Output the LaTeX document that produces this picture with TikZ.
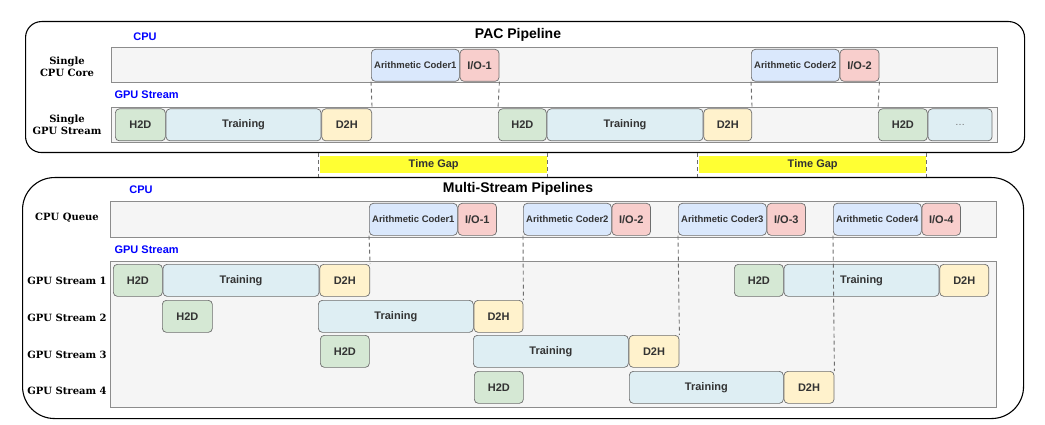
\documentclass[tikz,border=0pt]{standalone}
\usepackage{fontspec}
\setmainfont{DejaVu Serif}
\setsansfont{Liberation Sans}
\usepackage{tikz}
\usetikzlibrary{positioning}
\definecolor{lane}{HTML}{F5F5F5}
\definecolor{laneline}{HTML}{8C8C8C}
\definecolor{edge}{HTML}{6E6E6E}
\definecolor{ink}{HTML}{333333}
\definecolor{hd}{HTML}{D5E8D4}
\definecolor{tr}{HTML}{DEEEF3}
\definecolor{dh}{HTML}{FFF2CC}
\definecolor{ac}{HTML}{DAE8FC}
\definecolor{io}{HTML}{F8CECC}
\definecolor{gapy}{HTML}{FFFF33}
\tikzset{
  frame/.style={draw=black,line width=1.1pt,anchor=north west,inner sep=0pt},
  bar/.style={draw=laneline,fill=lane,anchor=north west,inner sep=0pt,line width=.8pt},
  task/.style={draw=edge,rounded corners=4pt,minimum height=32,inner sep=0pt,text=ink,
    font=\sffamily\bfseries\fontsize{11}{12}\selectfont,line width=.7pt},
  coder/.style={task,fill=ac,font=\sffamily\bfseries\fontsize{9.5}{11}\selectfont},
  iobox/.style={task,fill=io},
  gapbar/.style={fill=gapy,anchor=north west,inner sep=0pt,minimum height=17,text=ink,
    font=\sffamily\bfseries\fontsize{11}{12}\selectfont},
  lbl/.style={font=\fontsize{10}{12.5}\selectfont\bfseries,align=center},
  hdr/.style={font=\sffamily\bfseries\fontsize{11}{12}\selectfont,text=blue},
  ttl/.style={font=\sffamily\bfseries\fontsize{14}{16}\selectfont},
  sync/.style={dashed,dash pattern=on 4pt off 3pt,draw=edge,line width=.9pt}
}

\begin{document}
\begin{tikzpicture}[x=1pt,y=-1pt]
  \useasboundingbox (0,0) rectangle (1045,425);

  % PAC pipeline
  \node[frame,rounded corners=16pt,minimum width=999,minimum height=131] (pac) at (25,21) {};
  \node[ttl] (pacT) at (518,35) {PAC Pipeline};
  \node[hdr] (cpuH) at (145,37) {CPU};
  \node[hdr,anchor=west] (gpuH) at (111,95) {GPU Stream};
  \node[lbl] (coreL) at (67,67) {Single\\CPU Core};
  \node[lbl] (streamL) at (67,125) {Single\\GPU Stream};
  \node[bar,minimum width=886,minimum height=35] (cpuA) at (111,47) {};
  \node[bar,minimum width=886,minimum height=35] (gpuA) at (111,107) {};

  \node[coder,anchor=north west,minimum width=88] (ac1) at (371,49) {Arithmetic Coder1};
  \node[iobox,minimum width=39,right=0pt of ac1] (io1) {I/O-1};
  \node[coder,anchor=north west,minimum width=88] (ac2) at (751,49) {Arithmetic Coder2};
  \node[iobox,minimum width=39,right=0pt of ac2] (io2) {I/O-2};

  \node[task,fill=hd,anchor=north west,minimum width=50] (hA1) at (115,108.5) {H2D};
  \node[task,fill=tr,minimum width=155,right=0pt of hA1] (tA1) {Training};
  \node[task,fill=dh,minimum width=50,right=0pt of tA1] (dA1) {D2H};
  \node[task,fill=hd,anchor=north west,minimum width=48] (hA2) at (498,108.5) {H2D};
  \node[task,fill=tr,minimum width=156,right=0pt of hA2] (tA2) {Training};
  \node[task,fill=dh,minimum width=48,right=0pt of tA2] (dA2) {D2H};
  \node[task,fill=hd,anchor=north west,minimum width=49] (hA3) at (878,108.5) {H2D};
  \node[task,fill=tr,minimum width=64,right=0pt of hA3,font=\sffamily\fontsize{10}{11}\selectfont,text=edge] (more) {\dots};

  \draw[sync] (ac1.south west) -- (dA1.north east);
  \draw[sync] (io1.south east) -- (hA2.north west);
  \draw[sync] (ac2.south west) -- (dA2.north east);
  \draw[sync] (io2.south east) -- (hA3.north west);

  % time gaps
  \node[frame,rounded corners=32pt,minimum width=1001,minimum height=241] (multi) at (22,177) {};
  \node[gapbar,minimum width=227] (gap1) at (320,156) {Time Gap};
  \node[gapbar,minimum width=227] (gap2) at (699,156) {Time Gap};
  \draw[sync] ([xshift=-2]gap1.west |- pac.south) -- ([xshift=-2]gap1.west |- multi.north);
  \draw[sync] (gap1.east |- pac.south) -- (gap1.east |- multi.north);
  \draw[sync] ([xshift=-2]gap2.west |- pac.south) -- ([xshift=-2]gap2.west |- multi.north);
  \draw[sync] (gap2.east |- pac.south) -- (gap2.east |- multi.north);

  % multi-stream pipelines
  \node[ttl] (multiT) at (518,189) {Multi-Stream Pipelines};
  \node[hdr] (cpuH2) at (141,190) {CPU};
  \node[hdr,anchor=west] (gpuH2) at (111,250) {GPU Stream};
  \node[lbl] (queueL) at (67,218) {CPU Queue};
  \node[lbl] (s1L) at (67,281) {GPU Stream 1};
  \node[lbl] (s2L) at (67,318) {GPU Stream 2};
  \node[lbl] (s3L) at (67,355) {GPU Stream 3};
  \node[lbl] (s4L) at (67,391) {GPU Stream 4};
  \node[bar,minimum width=886,minimum height=36] (cpuB) at (110,201) {};
  \node[bar,minimum width=886,minimum height=146] (gpuB) at (110,261) {};

  \foreach \k/\x in {1/369,2/523,3/678,4/833} {
    \node[coder,anchor=north west,minimum width=88] (bac\k) at (\x,203) {Arithmetic Coder\k};
    \node[iobox,minimum width=38.5,right=0pt of bac\k] (bio\k) {I/O-\k};
  }

  \node[task,fill=hd,anchor=north west,minimum width=49] (s1h) at (113,264) {H2D};
  \node[task,fill=tr,minimum width=156,right=0pt of s1h] (s1t) {Training};
  \node[task,fill=dh,minimum width=50,right=0pt of s1t] (s1d) {D2H};
  \node[task,fill=hd,anchor=north west,minimum width=49] (s1hb) at (734,264) {H2D};
  \node[task,fill=tr,minimum width=155,right=0pt of s1hb] (s1tb) {Training};
  \node[task,fill=dh,minimum width=49,right=0pt of s1tb] (s1db) {D2H};

  \node[task,fill=hd,anchor=north west,minimum width=50] (s2h) at (162,300) {H2D};
  \node[task,fill=tr,anchor=north west,minimum width=155] (s2t) at (318,300) {Training};
  \node[task,fill=dh,minimum width=49,right=0pt of s2t] (s2d) {D2H};

  \node[task,fill=hd,anchor=north west,minimum width=49] (s3h) at (320,335) {H2D};
  \node[task,fill=tr,anchor=north west,minimum width=155] (s3t) at (473,335) {Training};
  \node[task,fill=dh,minimum width=50,right=0pt of s3t] (s3d) {D2H};

  \node[task,fill=hd,anchor=north west,minimum width=49] (s4h) at (474,371) {H2D};
  \node[task,fill=tr,anchor=north west,minimum width=154] (s4t) at (629,371) {Training};
  \node[task,fill=dh,minimum width=50,right=0pt of s4t] (s4d) {D2H};

  \draw[sync] (bac1.south west) -- (s1d.north east);
  \draw[sync] (bac2.south west) -- (s2d.north east);
  \draw[sync] (bac3.south west) -- (s3d.north east);
  \draw[sync] (bac4.south west) -- (s4d.north east);
\end{tikzpicture}
\end{document}
